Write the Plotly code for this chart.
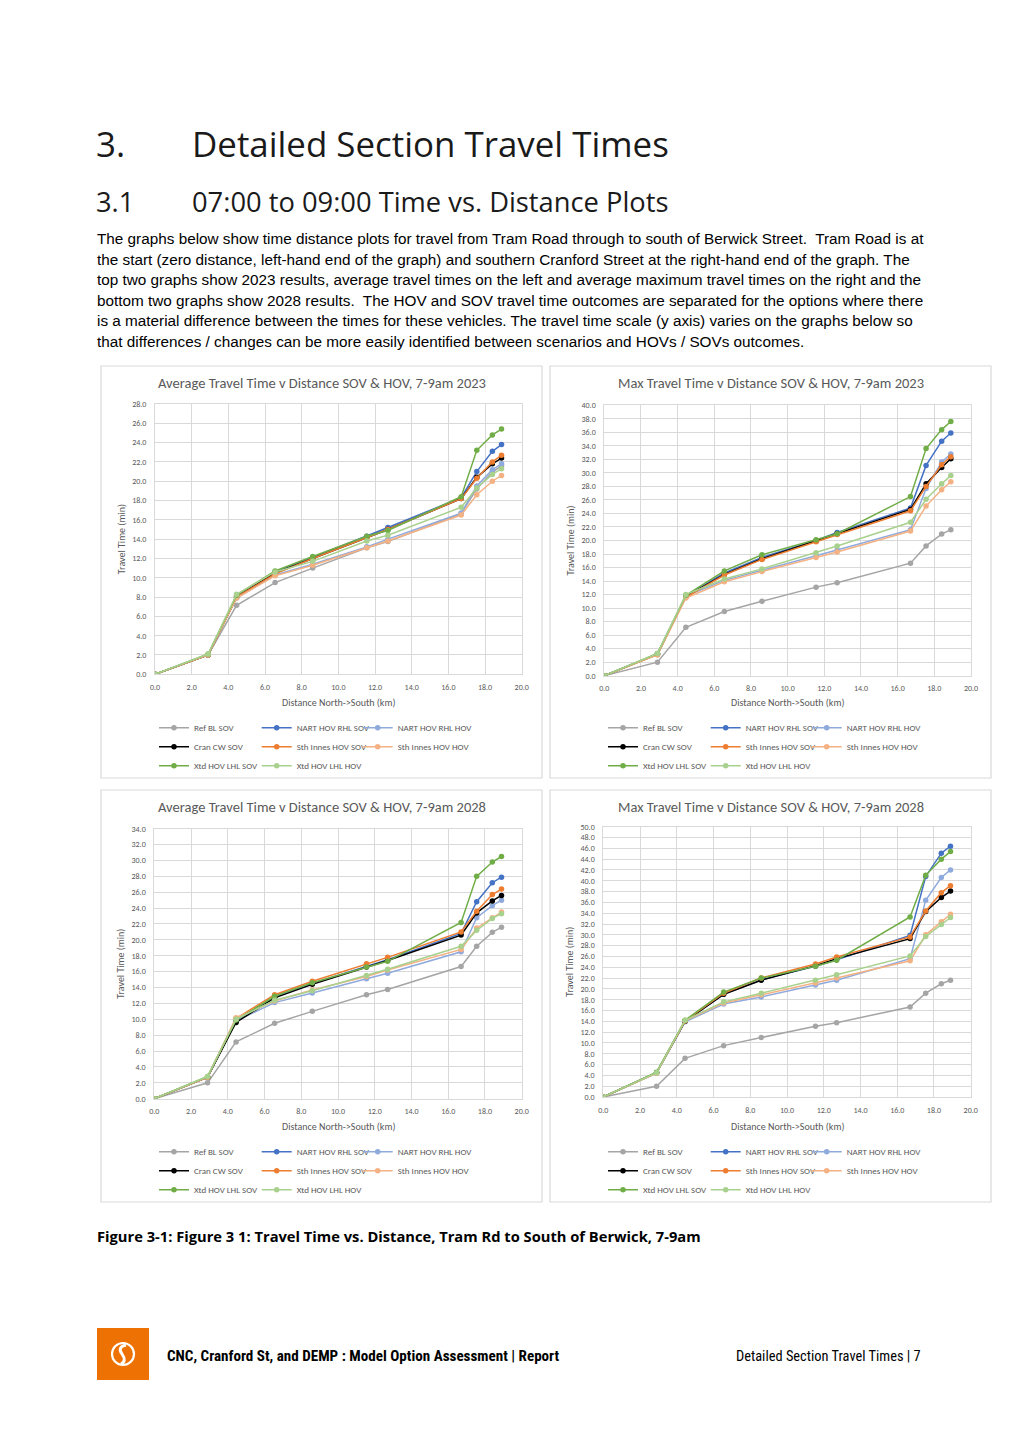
import plotly.graph_objects as go

W, H = 1012, 1433

# ---------------- data ----------------
distance_km = [0.0, 2.9, 4.45, 6.55, 8.6, 11.55, 12.7, 16.7, 17.55, 18.4, 18.9]
x_ticks = [0, 2, 4, 6, 8, 10, 12, 14, 16, 18, 20]

series_names = ["Ref BL SOV", "NART HOV RHL SOV", "NART HOV RHL HOV", "Cran CW SOV",
                "Sth Innes HOV SOV", "Sth Innes HOV HOV", "Xtd HOV LHL SOV", "Xtd HOV LHL HOV"]
series_colors = ["#A5A5A5", "#4472C4", "#8FAADC", "#000000",
                 "#ED7D31", "#F4B183", "#70AD47", "#A9D18E"]

ref_bl_sov = [0.0, 2.0, 7.15, 9.5, 11.0, 13.1, 13.75, 16.65, 19.2, 20.95, 21.6]

# Average 2023
avg23_nart_sov = [0.0, 2.0, 8.0, 10.6, 12.1, 14.3, 15.2, 18.3, 21.0, 23.1, 23.8]
avg23_nart_hov = [0.0, 2.0, 7.9, 10.3, 11.4, 13.2, 14.0, 16.7, 19.5, 21.2, 21.8]
avg23_cran_sov = [0.0, 2.0, 8.0, 10.5, 12.0, 14.2, 15.0, 18.2, 20.4, 21.8, 22.4]
avg23_sth_sov = [0.0, 2.0, 8.0, 10.4, 12.0, 14.2, 15.0, 18.2, 20.3, 22.0, 22.7]
avg23_sth_hov = [0.0, 2.0, 7.9, 10.2, 11.3, 13.1, 13.8, 16.5, 18.6, 20.0, 20.6]
avg23_xtd_sov = [0.0, 2.1, 8.2, 10.7, 12.2, 14.3, 14.9, 18.4, 23.2, 24.8, 25.4]
avg23_xtd_hov = [0.0, 2.1, 8.3, 10.6, 11.7, 13.8, 14.4, 17.3, 19.3, 20.7, 21.3]

# Max 2023
max23_nart_sov = [0.0, 3.2, 11.8, 15.2, 17.5, 20.0, 21.2, 24.8, 31.1, 34.7, 35.9]
max23_nart_hov = [0.0, 3.2, 11.8, 14.1, 15.6, 17.7, 18.6, 21.6, 27.7, 31.6, 32.8]
max23_cran_sov = [0.0, 3.2, 11.7, 15.0, 17.3, 19.9, 21.0, 24.6, 28.4, 30.8, 32.1]
max23_sth_sov = [0.0, 3.1, 11.6, 14.9, 17.2, 19.8, 20.9, 24.4, 28.0, 31.2, 32.4]
max23_sth_hov = [0.0, 3.1, 11.5, 13.9, 15.4, 17.5, 18.3, 21.4, 25.1, 27.5, 28.7]
max23_xtd_sov = [0.0, 3.3, 11.9, 15.5, 17.9, 20.1, 21.0, 26.5, 33.6, 36.4, 37.6]
max23_xtd_hov = [0.0, 3.3, 12.0, 14.3, 15.8, 18.2, 19.2, 22.7, 26.1, 28.4, 29.6]

# Average 2028
avg28_nart_sov = [0.0, 2.7, 9.8, 12.8, 14.5, 16.7, 17.5, 20.8, 24.8, 27.2, 27.9]
avg28_nart_hov = [0.0, 2.7, 9.8, 12.1, 13.3, 15.1, 15.8, 18.5, 22.8, 24.3, 25.0]
avg28_cran_sov = [0.0, 2.7, 9.6, 12.7, 14.4, 16.6, 17.4, 20.6, 23.4, 24.9, 25.6]
avg28_sth_sov = [0.0, 2.7, 10.1, 13.1, 14.8, 17.0, 17.8, 21.0, 23.6, 25.7, 26.4]
avg28_sth_hov = [0.0, 2.7, 10.2, 12.3, 13.7, 15.4, 16.2, 18.8, 21.5, 22.8, 23.5]
avg28_xtd_sov = [0.0, 2.8, 9.9, 12.9, 14.6, 16.6, 17.3, 22.2, 28.0, 29.8, 30.5]
avg28_xtd_hov = [0.0, 2.8, 10.0, 12.4, 13.6, 15.5, 16.3, 19.2, 21.2, 22.7, 23.3]

# Max 2028
max28_nart_sov = [0.0, 4.5, 14.0, 19.0, 21.7, 24.2, 25.4, 29.9, 40.8, 45.1, 46.4]
max28_nart_hov = [0.0, 4.4, 13.9, 17.2, 18.5, 20.7, 21.6, 25.6, 36.4, 40.6, 42.0]
max28_cran_sov = [0.0, 4.5, 14.0, 19.0, 21.6, 24.3, 25.6, 29.3, 34.3, 36.9, 38.1]
max28_sth_sov = [0.0, 4.5, 14.1, 19.2, 22.0, 24.6, 25.9, 29.6, 34.4, 37.8, 39.1]
max28_sth_hov = [0.0, 4.4, 14.1, 17.4, 18.9, 21.1, 22.0, 25.2, 30.0, 32.4, 33.8]
max28_xtd_sov = [0.0, 4.6, 14.2, 19.4, 22.0, 24.2, 25.3, 33.3, 41.0, 44.0, 45.4]
max28_xtd_hov = [0.0, 4.5, 14.2, 17.6, 19.2, 21.6, 22.6, 26.1, 29.7, 31.9, 33.2]

chart_titles = ["Average Travel Time v Distance SOV & HOV, 7-9am 2023",
                "Max Travel Time v Distance SOV & HOV, 7-9am 2023",
                "Average Travel Time v Distance SOV & HOV, 7-9am 2028",
                "Max Travel Time v Distance SOV & HOV, 7-9am 2028"]
chart_ymax = [28, 40, 34, 50]
chart_series = [
    [ref_bl_sov, avg23_nart_sov, avg23_nart_hov, avg23_cran_sov, avg23_sth_sov, avg23_sth_hov, avg23_xtd_sov, avg23_xtd_hov],
    [ref_bl_sov, max23_nart_sov, max23_nart_hov, max23_cran_sov, max23_sth_sov, max23_sth_hov, max23_xtd_sov, max23_xtd_hov],
    [ref_bl_sov, avg28_nart_sov, avg28_nart_hov, avg28_cran_sov, avg28_sth_sov, avg28_sth_hov, avg28_xtd_sov, avg28_xtd_hov],
    [ref_bl_sov, max28_nart_sov, max28_nart_hov, max28_cran_sov, max28_sth_sov, max28_sth_hov, max28_xtd_sov, max28_xtd_hov],
]

x_title = "Distance North->South (km)"
y_title = "Travel Time (min)"

heading = ("3.", "Detailed Section Travel Times")
subheading = ("3.1", "07:00 to 09:00 Time vs. Distance Plots")
paragraph_lines = [
    "The graphs below show time distance plots for travel from Tram Road through to south of Berwick Street.  Tram Road is at",
    "the start (zero distance, left-hand end of the graph) and southern Cranford Street at the right-hand end of the graph. The",
    "top two graphs show 2023 results, average travel times on the left and average maximum travel times on the right and the",
    "bottom two graphs show 2028 results.  The HOV and SOV travel time outcomes are separated for the options where there",
    "is a material difference between the times for these vehicles. The travel time scale (y axis) varies on the graphs below so",
    "that differences / changes can be more easily identified between scenarios and HOVs / SOVs outcomes.",
]
caption = "Figure 3-1: Figure 3 1: Travel Time vs. Distance, Tram Rd to South of Berwick, 7-9am"
footer_left = "CNC, Cranford St, and DEMP : Model Option Assessment | Report"
footer_right = "Detailed Section Travel Times | 7"

# ---------------- layout geometry (pixels) ----------------
def px(x):
    return x / W

def py(y):
    return 1 - y / H

# chart boxes (left, top, right, bottom)
boxes = [(101, 366, 542, 778), (550, 366, 991, 778), (101, 790, 542, 1202), (550, 790, 991, 1202)]
# plot areas (x0, x1, y_bottom, y_top)
plots = [(155, 521.7, 674.3, 404.0), (604.3, 971.0, 675.7, 405.3),
         (154.3, 521.7, 1098.7, 828.7), (603.3, 970.7, 1097.0, 826.7)]

CHART_FONT = "Carlito, Calibri, Lato, sans-serif"
GREY = "#595959"
GRID = "#D9D9D9"

fig = go.Figure()
legend_cols = [[0, 3, 6], [1, 4, 7], [2, 5]]
col_text_x = [194, 296.7, 397.7]

layout_extra = {}
annotations = []
shapes = []

for c in range(4):
    xa = "x" if c == 0 else f"x{c+1}"
    ya = "y" if c == 0 else f"y{c+1}"
    bl, bt, br, bb = boxes[c]
    dx, dy = bl - 101, bt - 366
    for s in range(8):
        col = [k for k, members in enumerate(legend_cols) if s in members][0]
        lg_idx = c * 3 + col + 1
        lg = "legend" if lg_idx == 1 else f"legend{lg_idx}"
        fig.add_trace(go.Scatter(
            x=distance_km, y=chart_series[c][s], name=series_names[s],
            mode="lines+markers", xaxis=xa, yaxis=ya, legend=lg,
            line=dict(color=series_colors[s], width=1.5),
            marker=dict(color=series_colors[s], size=5.5),
        ))
    for col in range(3):
        lg_idx = c * 3 + col + 1
        lg = "legend" if lg_idx == 1 else f"legend{lg_idx}"
        layout_extra[lg] = dict(
            x=px(col_text_x[col] - 40 + dx), y=py(713.2 + dy),
            xanchor="left", yanchor="top", orientation="v",
            bgcolor="rgba(0,0,0,0)", borderwidth=0, tracegroupgap=0,
            font=dict(family=CHART_FONT, size=9, color=GREY),
            itemwidth=30, traceorder="normal",
        )
    x0, x1, yb, yt = plots[c]
    xkey = "xaxis" if c == 0 else f"xaxis{c+1}"
    ykey = "yaxis" if c == 0 else f"yaxis{c+1}"
    layout_extra[xkey] = dict(
        domain=[px(x0), px(x1)], anchor=ya, range=[0, 20], tickvals=x_ticks,
        tickformat=".1f", showgrid=True, gridcolor=GRID, gridwidth=1,
        showline=True, linecolor=GRID, linewidth=1, mirror=True, zeroline=False,
        ticks="", ticklabelstandoff=5, tickfont=dict(family=CHART_FONT, size=8, color=GREY),
        fixedrange=True,
    )
    layout_extra[ykey] = dict(
        domain=[py(yb), py(yt)], anchor=xa, range=[0, chart_ymax[c]], dtick=2,
        tickformat=".1f", showgrid=True, gridcolor=GRID, gridwidth=1,
        showline=True, linecolor=GRID, linewidth=1, mirror=True, zeroline=False,
        ticks="", ticklabelstandoff=6, tickfont=dict(family=CHART_FONT, size=8, color=GREY),
        fixedrange=True,
    )
    shapes.append(dict(type="rect", xref="paper", yref="paper",
                       x0=px(bl), x1=px(br), y0=py(bb), y1=py(bt),
                       line=dict(color=GRID, width=1.2), fillcolor="rgba(0,0,0,0)", layer="below"))
    annotations.append(dict(text=chart_titles[c], x=px((bl + br) / 2), y=py(383.5 + dy),
                            xref="paper", yref="paper", showarrow=False,
                            xanchor="center", yanchor="middle",
                            font=dict(family=CHART_FONT, size=14.5, color=GREY)))
    annotations.append(dict(text=x_title, x=px((x0 + x1) / 2), y=py(702 + dy),
                            xref="paper", yref="paper", showarrow=False,
                            xanchor="center", yanchor="middle",
                            font=dict(family=CHART_FONT, size=10, color=GREY)))
    annotations.append(dict(text=y_title, x=px(121 + dx), y=py((yb + yt) / 2),
                            xref="paper", yref="paper", showarrow=False, textangle=-90,
                            xanchor="center", yanchor="middle",
                            font=dict(family=CHART_FONT, size=10, color=GREY)))

TEXT_FONT = "Liberation Sans, Arial, sans-serif"
HEAD_FONT = "Open Sans, sans-serif"
NARROW_FONT = "Liberation Sans Narrow, Arial Narrow, Roboto Condensed, Liberation Sans"

def add_text(text, x, y, size, family, color="#000000", anchor="left"):
    annotations.append(dict(text=text, x=px(x), y=py(y), xref="paper", yref="paper",
                            showarrow=False, xanchor=anchor, yanchor="middle",
                            font=dict(family=family, size=size, color=color)))

add_text(heading[0], 94, 143, 34.9, HEAD_FONT, "#1A1A1A")
add_text(heading[1], 190, 143, 34.9, HEAD_FONT, "#1A1A1A")
add_text(subheading[0], 94, 201, 27.3, HEAD_FONT, "#1A1A1A")
add_text(subheading[1], 190, 201, 27.3, HEAD_FONT, "#1A1A1A")
for i, line in enumerate(paragraph_lines):
    add_text(line, 95, 238.5 + i * 20.5, 15.3, TEXT_FONT)
add_text("<b>" + caption + "</b>", 95, 1236, 14.7, HEAD_FONT)
add_text("<b>" + footer_left + "</b>", 165, 1356, 15.1, NARROW_FONT)
add_text(footer_right, 734, 1356, 14.4, NARROW_FONT)

# footer logo
shapes.append(dict(type="rect", xref="paper", yref="paper", x0=px(97), x1=px(149),
                   y0=py(1380), y1=py(1328), fillcolor="#EE7203", line=dict(width=0)))
shapes.append(dict(type="circle", xref="paper", yref="paper", x0=px(112), x1=px(134),
                   y0=py(1365), y1=py(1343), line=dict(color="white", width=2.2),
                   fillcolor="rgba(0,0,0,0)"))
shapes.append(dict(type="path", xref="paper", yref="paper",
                   path=(f"M {px(126)} {py(1345)} Q {px(117)} {py(1347)} {px(122)} {py(1354)} "
                         f"Q {px(127)} {py(1361)} {px(121)} {py(1364)}"),
                   line=dict(color="white", width=3)))

fig.update_layout(
    width=W, height=H, margin=dict(l=0, r=0, t=0, b=0, pad=0, autoexpand=False),
    paper_bgcolor="white", plot_bgcolor="white",
    showlegend=True, annotations=annotations, shapes=shapes,
    **layout_extra,
)

fig.write_html("out.html", config={"displayModeBar": False},
               post_script="document.body.style.margin='0px';document.body.style.padding='0px';")
